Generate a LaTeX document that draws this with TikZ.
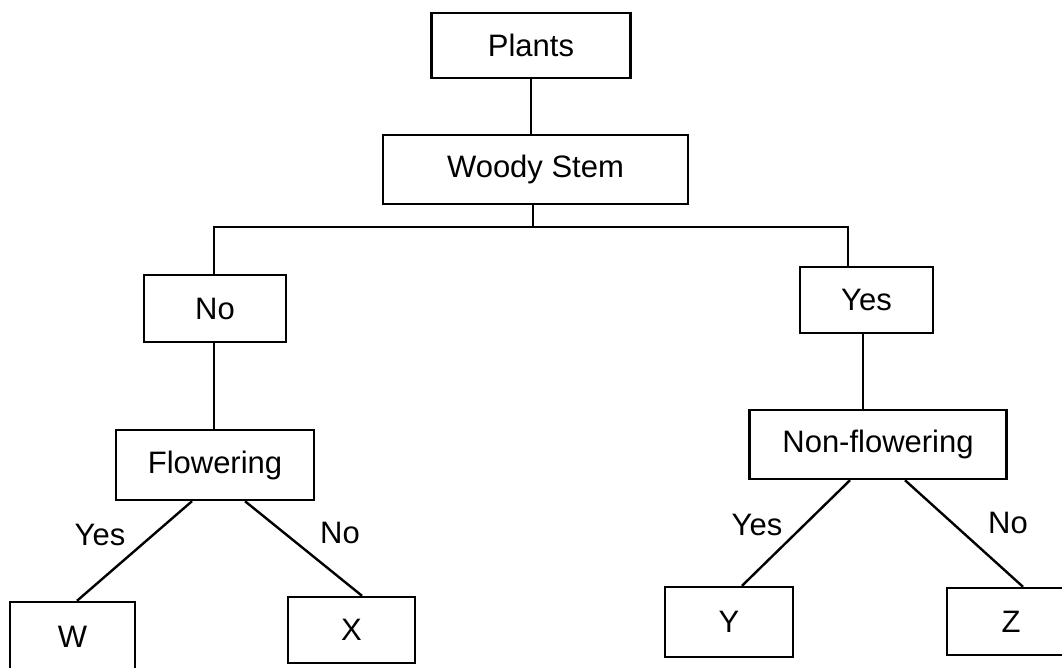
\documentclass[tikz,border=0pt]{standalone}
\usepackage{fontspec}
\setmainfont{Liberation Sans}
\begin{document}
\begin{tikzpicture}[x=1pt,y=-1pt,
  box/.style={draw=black,line width=2.4pt,inner sep=0pt,minimum width=#1},
  box/.default=130pt,
  conn/.style={line width=2.4pt},
  lbl/.style={inner sep=0pt},
  every node/.style={font=\fontsize{31}{36}\selectfont}]
\useasboundingbox[fill=white] (0,0) rectangle (1062,667);
\node[box=199pt,minimum height=65pt] (plants) at (531,45.5) {Plants};
\node[box=305pt,minimum height=69pt] (woody) at (535.5,169.5) {Woody Stem};
\node[box=142pt,minimum height=67pt] (no) at (215,308.5) {No};
\node[box=133pt,minimum height=66pt] (yes) at (866.5,300) {Yes};
\node[box=198pt,minimum height=70pt] (flow) at (215,465) {Flowering};
\node[box=257pt,minimum height=69pt] (nonflow) at (878,444.5) {Non-flowering};
\node[box=125pt,minimum height=70pt] (w) at (72.5,637) {W};
\node[box=127pt,minimum height=66pt] (x) at (351.5,630) {X};
\node[box=128pt,minimum height=70pt] (y) at (729,622) {Y};
\node[box=128pt,minimum height=67pt] (z) at (1011,621.5) {Z};
\coordinate (split) at (533,227);
\coordinate (L) at (214,227);
\coordinate (R) at (848,227);
\draw[conn] (plants.south) -- (plants.south |- woody.north);
\draw[conn] (woody.south -| split) -- (split);
\draw[conn] (no.north -| L) -- (L) -- (R) -- (R |- yes.north);
\draw[conn] (no.south -| L) -- (L |- flow.north);
\draw[conn] ([xshift=-3.5pt]yes.south) -- ([xshift=-3.5pt]yes.south |- nonflow.north);
\draw[conn] ([xshift=-23pt]flow.south) -- ([xshift=4.5pt]w.north);
\draw[conn] ([xshift=30pt]flow.south) -- ([xshift=10.5pt]x.north);
\draw[conn] ([xshift=-28pt]nonflow.south) -- ([xshift=13pt]y.north);
\draw[conn] ([xshift=27pt]nonflow.south) -- ([xshift=12pt]z.north);
\node[lbl] (l1) at (100,535) {Yes};
\node[lbl] (l2) at (340,533) {No};
\node[lbl] (l3) at (757,525) {Yes};
\node[lbl] (l4) at (1008,523) {No};
\end{tikzpicture}
\end{document}
